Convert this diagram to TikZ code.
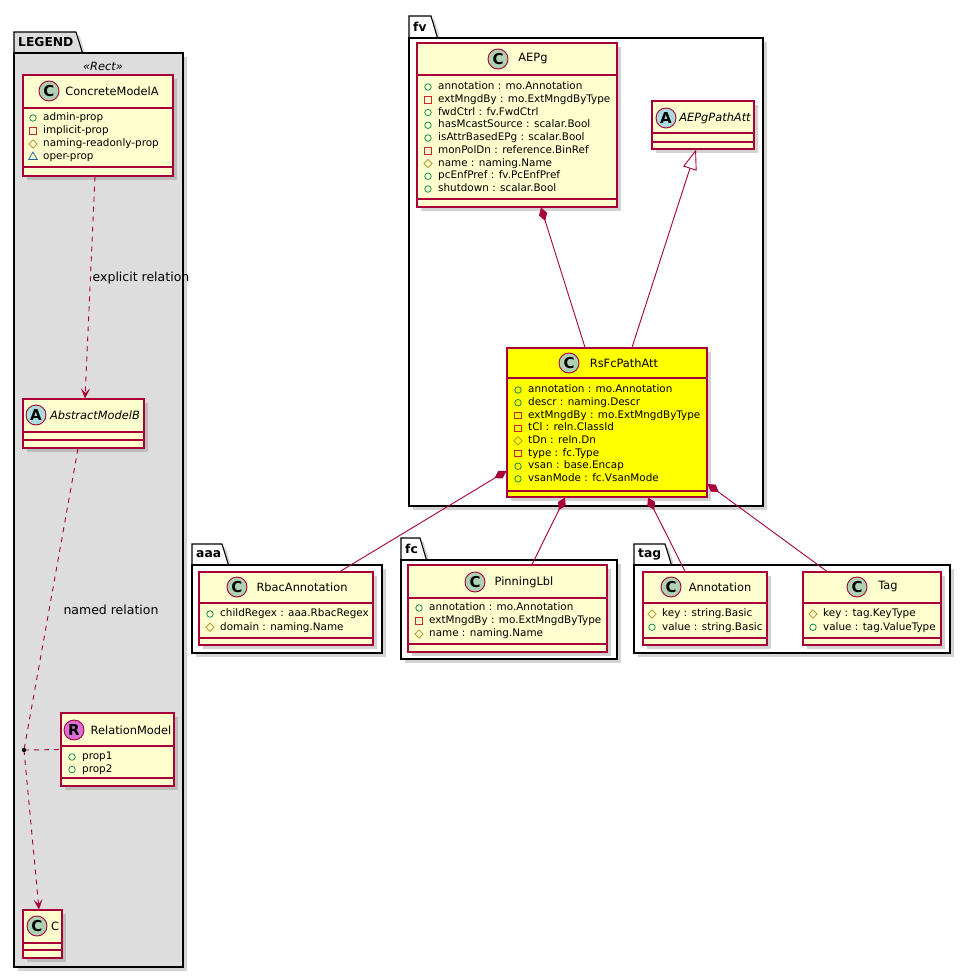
\documentclass[tikz,border=0pt]{standalone}
\usepackage{fontspec}
\setmainfont{DejaVu Sans}
\usetikzlibrary{positioning,arrows.meta,shapes.geometric,shadows}

\definecolor{umlred}{HTML}{A80036}
\definecolor{umlbg}{HTML}{FEFECE}
\definecolor{ccirc}{HTML}{ADD1B2}
\definecolor{acirc}{HTML}{A9DCDF}
\definecolor{rcirc}{HTML}{DA70D6}
\definecolor{pubgreen}{HTML}{038048}
\definecolor{prired}{HTML}{C82930}
\definecolor{progold}{HTML}{B38D22}
\definecolor{pkgblue}{HTML}{1963A0}
\definecolor{legendgray}{HTML}{DDDDDD}
\definecolor{hilite}{HTML}{FFFF00}

\tikzset{
    cls/.style={draw=umlred, line width=1.1pt, inner sep=0pt,
        drop shadow={shadow xshift=3.5pt, shadow yshift=-3.5pt, opacity=.35}},
    sep/.style={draw=umlred, line width=1.1pt},
    pkgline/.style={draw=black, line width=1.1pt,
        drop shadow={shadow xshift=3.5pt, shadow yshift=-3.5pt, opacity=.35}},
    pkglabel/.style={anchor=west, inner sep=0pt, font=\fontsize{12.3}{14}\bfseries},
    stereo/.style={circle, draw=umlred, line width=0.9pt, minimum size=20pt,
        inner sep=0pt, font=\fontsize{15}{15}\bfseries},
    cname/.style={inner sep=0pt, font=\fontsize{11.4}{13}\selectfont},
    attr/.style={anchor=west, inner sep=0pt, text height=7.6pt, text depth=2.2pt,
        font=\fontsize{10.4}{12}\selectfont},
    lbl/.style={inner sep=0pt, font=\fontsize{12.5}{14}\selectfont},
    vpub/.style={circle, draw=pubgreen, line width=0.7pt, minimum size=6.5pt, inner sep=0pt},
    vpri/.style={rectangle, draw=prired, line width=0.7pt, minimum size=6.5pt, inner sep=0pt},
    vpro/.style={diamond, draw=progold, line width=0.7pt, minimum size=8.5pt, inner sep=0pt},
    vpkg/.style={regular polygon, regular polygon sides=3, draw=pkgblue, line width=0.7pt,
        minimum size=10pt, inner sep=0pt},
    rel/.style={draw=umlred, line width=0.9pt},
    comp/.style={rel, {Diamond[fill=umlred, length=14pt, width=8.5pt]}-},
    gen/.style={rel, -{Triangle[fill=white, length=20pt, width=14pt, line width=0.9pt]}},
    dashrel/.style={rel, dash pattern=on 5pt off 5pt},
    dep/.style={dashrel, -{Stealth[length=10pt, width=9pt, inset=4.5pt]}},
}

% class box: [fill]{name}{x1}{y1}{x2}{y2}{header line}{second line}
\newcommand\umlclass[8][umlbg]{%
    \node[cls, fill=#1, minimum width={(#5-#3)*1pt}, minimum height={(#6-#4)*1pt}]
        (#2) at ({(#3+#5)/2}, {(#4+#6)/2}) {};
    \draw[sep] (#3,#7) -- (#5,#7) (#3,#8) -- (#5,#8);
}

% attributes: {prefix}{icon x}{first y}{pitch}{list}
\newcommand\attrs[5]{%
    \foreach \vis/\txt [count=\i] in {#5}
        \node[\vis] (#1v\i) at (#2, {#3+#4*(\i-1)}) {}
            node[attr] (#1t\i) at ({#2+10}, {#3+#4*(\i-1)}) {\txt};
}

% package: [fill]{name}{x1}{tab top}{tab right}{body top}{x2}{bottom}
\newcommand\umlpkg[8][white]{%
    \draw[pkgline, fill=#1] (#3,#6) -- (#3,#4) -- (#5,#4) -- ({#5+6.5},#6) -- cycle;
    \draw[pkgline, fill=#1] (#3,#6) rectangle (#7,#8);
    \node[pkglabel] (#2) at ({#3+4}, {(#4+#6)/2}) {#2};
}

\begin{document}
\begin{tikzpicture}[x=1pt, y=-1pt]
    \useasboundingbox (0,0) rectangle (970,977);

    % packages
    \umlpkg[legendgray]{LEGEND}{14}{32}{76}{53}{183}{967}
    \umlpkg{fv}{409}{16}{431}{38}{763}{506}
    \umlpkg{aaa}{192}{544}{222}{565}{382}{653}
    \umlpkg{fc}{401}{538}{420}{560}{617}{659}
    \umlpkg{tag}{634}{544}{665}{565}{950}{653}

    % legend
    \node[lbl, font=\fontsize{11.4}{13}\itshape] (rect) at (103,66) {«Rect»};

    \umlclass{cma}{23}{75}{173}{176}{108}{167}
    \node[stereo, fill=ccirc] (cma-c) at (49,91) {C};
    \node[cname] (cma-n) at (112,91) {ConcreteModelA};
    \attrs{cma}{33}{118}{13}{vpub/admin-prop, vpri/implicit-prop,
        vpro/naming-readonly-prop, vpkg/oper-prop}

    \umlclass{amb}{23}{399}{144}{448}{432}{440}
    \node[stereo, fill=acirc] (amb-c) at (36,415) {A};
    \node[cname, font=\fontsize{11.4}{13}\itshape] (amb-n) at (95,415) {AbstractModelB};

    \umlclass{relm}{61}{713}{174}{786}{746}{778}
    \node[stereo, fill=rcirc] (relm-c) at (74,730) {R};
    \node[cname] (relm-n) at (131,730) {RelationModel};
    \attrs{relm}{72}{757}{12.5}{vpub/prop1, vpub/prop2}

    \umlclass{cc}{23}{910}{62}{958}{943}{950}
    \node[stereo, fill=ccirc] (cc-c) at (37,926) {C};
    \node[cname] (cc-n) at (55,926) {C};

    \coordinate (rdot) at (24,750);

    \draw[dep] ([xshift=-3pt]cma.south) -- ([xshift=1.5pt]amb.north);
    \node[lbl] (expl) at (141,278) {explicit relation};
    \draw[dashrel] ([xshift=-5.5pt]amb.south) -- (rdot);
    \draw[dep] (rdot) -- ([xshift=-3.5pt]cc.north);
    \draw[dashrel] (rdot) -- (relm.west);
    \fill (rdot) circle (2.2);
    \node[lbl] (named) at (111,610) {named relation};

    % fv
    \umlclass{aepg}{417}{43}{617}{207}{75}{199}
    \node[stereo, fill=ccirc] (aepg-c) at (498,59) {C};
    \node[cname] (aepg-n) at (533,59) {AEPg};
    \attrs{aepg}{428}{87}{12.75}{vpub/annotation : mo.Annotation,
        vpri/extMngdBy : mo.ExtMngdByType, vpub/fwdCtrl : fv.FwdCtrl,
        vpub/hasMcastSource : scalar.Bool, vpub/isAttrBasedEPg : scalar.Bool,
        vpri/monPolDn : reference.BinRef, vpro/name : naming.Name,
        vpub/pcEnfPref : fv.PcEnfPref, vpub/shutdown : scalar.Bool}

    \umlclass{aepa}{652}{101}{754}{149}{133}{142}
    \node[stereo, fill=acirc] (aepa-c) at (666,118) {A};
    \node[cname, font=\fontsize{11.4}{13}\itshape] (aepa-n) at (715,118) {AEPgPathAtt};

    \umlclass[hilite]{rsfc}{507}{348}{707}{497}{378}{491}
    \node[stereo, fill=ccirc] (rsfc-c) at (569,363) {C};
    \node[cname] (rsfc-n) at (624,363) {RsFcPathAtt};
    \attrs{rsfc}{518}{390}{12.7}{vpub/annotation : mo.Annotation,
        vpub/descr : naming.Descr, vpri/extMngdBy : mo.ExtMngdByType,
        vpri/tCl : reln.ClassId, vpro/tDn : reln.Dn, vpri/type : fc.Type,
        vpub/vsan : base.Encap, vpub/vsanMode : fc.VsanMode}

    % aaa, fc, tag
    \umlclass{rbac}{199}{572}{373}{645}{603}{638}
    \node[stereo, fill=ccirc] (rbac-c) at (237,587) {C};
    \node[cname] (rbac-n) at (302,587) {RbacAnnotation};
    \attrs{rbac}{210}{614}{13.3}{vpub/childRegex : aaa.RbacRegex, vpro/domain : naming.Name}

    \umlclass{pinl}{408}{565}{607}{652}{598}{644}
    \node[stereo, fill=ccirc] (pinl-c) at (475,582) {C};
    \node[cname] (pinl-n) at (524,582) {PinningLbl};
    \attrs{pinl}{419}{608}{13}{vpub/annotation : mo.Annotation,
        vpri/extMngdBy : mo.ExtMngdByType, vpro/name : naming.Name}

    \umlclass{annot}{643}{572}{767}{645}{603}{638}
    \node[stereo, fill=ccirc] (annot-c) at (671,587) {C};
    \node[cname] (annot-n) at (720,587) {Annotation};
    \attrs{annot}{652}{614}{13.3}{vpro/key : string.Basic, vpub/value : string.Basic}

    \umlclass{tagc}{803}{572}{941}{645}{603}{638}
    \node[stereo, fill=ccirc] (tagc-c) at (857,587) {C};
    \node[cname] (tagc-n) at (888,587) {Tag};
    \attrs{tagc}{813}{614}{13.3}{vpro/key : tag.KeyType, vpub/value : tag.ValueType}

    % relations
    \draw[comp] ([xshift=24pt]aepg.south) -- ([xshift=-22pt]rsfc.north);
    \draw[gen] ([xshift=25pt]rsfc.north) -- ([xshift=-7pt]aepa.south);
    \draw[comp] ([yshift=-48.5pt]rsfc.west) -- ([xshift=54pt]rbac.north);
    \draw[comp] ([xshift=-42pt]rsfc.south) -- ([xshift=24.5pt]pinl.north);
    \draw[comp] ([xshift=41pt]rsfc.south) -- ([xshift=-20pt]annot.north);
    \draw[comp] ([yshift=-61.5pt]rsfc.east) -- ([xshift=-45pt]tagc.north);
\end{tikzpicture}
\end{document}
